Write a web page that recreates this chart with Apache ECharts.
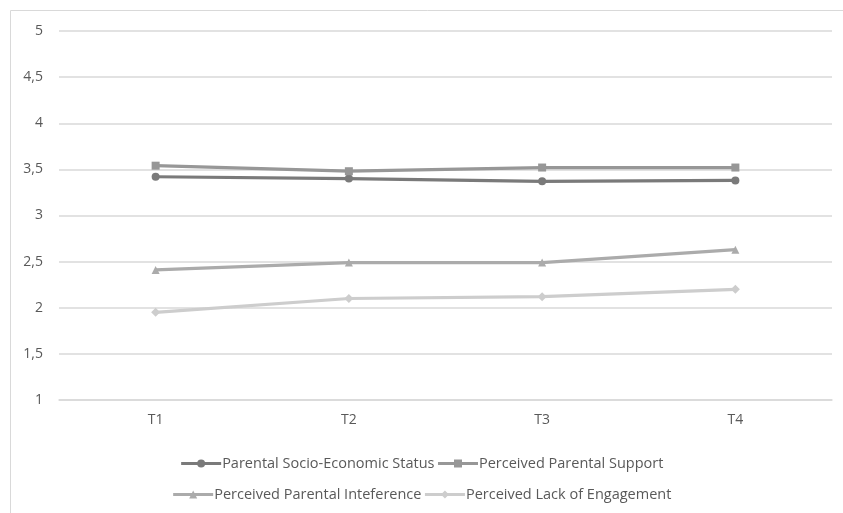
<!DOCTYPE html>
<html><head><meta charset="utf-8">
<script src="https://cdn.jsdelivr.net/npm/echarts@6/dist/echarts.min.js"></script>
<style>html,body{margin:0;padding:0;background:#fff}#c{width:843px;height:513px}</style>
</head><body><div id="c"></div>
<script>
const categories = ['T1','T2','T3','T4'];
const seriesNames = ['Parental Socio-Economic Status','Perceived Parental Support','Perceived Parental Inteference','Perceived Lack of Engagement'];
const socioEconomic = [3.42, 3.40, 3.37, 3.38];
const support = [3.54, 3.48, 3.52, 3.52];
const interference = [2.41, 2.49, 2.49, 2.63];
const lackEngagement = [1.95, 2.10, 2.12, 2.20];
const yTicks = {min:1, max:5, interval:0.5};

const colors = ['#7a7a7a','#979797','#ababab','#cdcdcd'];
const symbols = ['circle','rect','triangle','diamond'];
const dataSets = [socioEconomic, support, interference, lackEngagement];

const chart = echarts.init(document.getElementById('c'));
const font = 'Open Sans, Liberation Sans, sans-serif';
const legendBase = {left:'center',itemWidth:40,itemHeight:10,itemGap:2,
  lineStyle:{width:3},
  textStyle:{color:'#595959',fontSize:14.5,fontFamily:font,padding:[0,0,0,-4]}};
chart.setOption({
  animation:false,
  graphic:[{type:'rect',shape:{x:10.5,y:10.5,width:900,height:600},style:{fill:'none',stroke:'#d9d9d9',lineWidth:1}}],
  grid:{left:59,right:11,top:31,bottom:113},
  legend:[
    Object.assign({data:seriesNames.slice(0,2),top:451},legendBase),
    Object.assign({data:seriesNames.slice(2),top:482},legendBase)
  ],
  xAxis:{type:'category',data:categories,boundaryGap:true,
    axisLine:{lineStyle:{color:'#d9d9d9',width:1.5}},axisTick:{show:false},
    axisLabel:{color:'#595959',fontSize:14,fontFamily:font,margin:13}},
  yAxis:{type:'value',min:yTicks.min,max:yTicks.max,interval:yTicks.interval,
    axisLine:{show:false},axisTick:{show:false},
    splitLine:{lineStyle:{color:'#d9d9d9',width:1.5}},
    axisLabel:{color:'#595959',fontSize:14,fontFamily:font,margin:16,
      formatter:v=>String(v).replace('.',',')}},
  series:dataSets.map((d,i)=>({
    name:seriesNames[i],type:'line',data:d,
    symbol:symbols[i],symbolSize:i===3?9:8,
    lineStyle:{color:colors[i],width:3.2},
    itemStyle:{color:colors[i]}
  }))
});
</script></body></html>
